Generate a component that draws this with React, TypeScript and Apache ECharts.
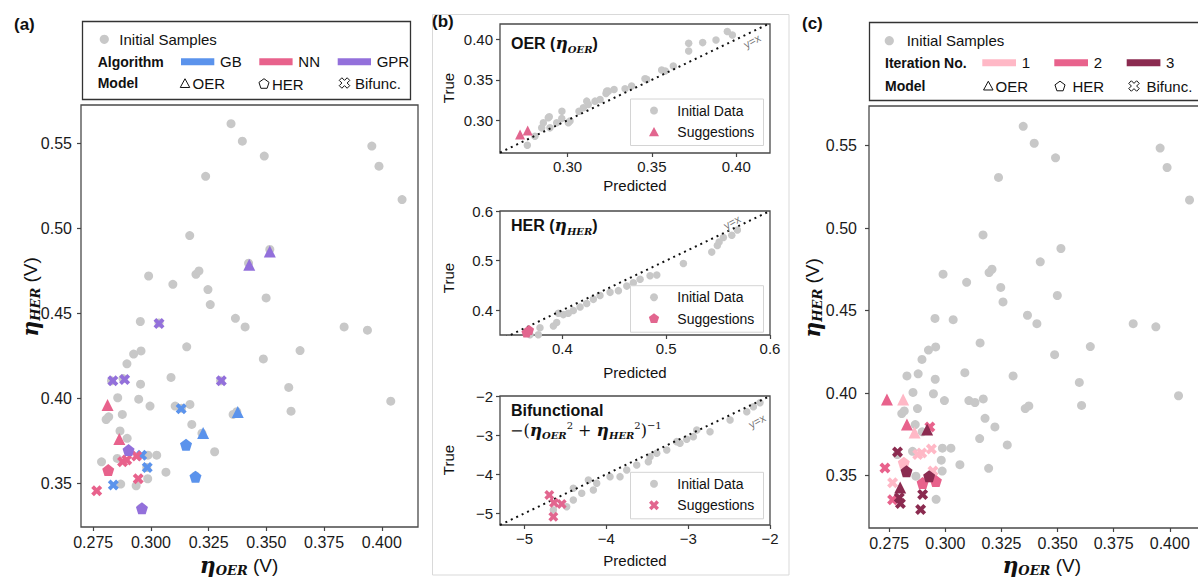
import React, { useEffect, useRef } from 'react';
import * as echarts from 'echarts';

// ---------------- DATA ----------------
// shared initial samples (eta_OER, eta_HER) in V
const initialSamples: number[][] = [
  [0.3347, 0.5618], [0.3396, 0.5515], [0.3491, 0.5427], [0.3237, 0.5308], [0.3957, 0.5486],
  [0.3988, 0.5368], [0.4088, 0.5171], [0.3168, 0.4959], [0.2990, 0.4721], [0.3095, 0.4672],
  [0.3195, 0.4731], [0.3208, 0.4751], [0.3247, 0.4641], [0.3257, 0.4553], [0.3499, 0.4592],
  [0.2954, 0.4453], [0.3366, 0.4472], [0.3408, 0.4421], [0.3837, 0.4421], [0.3938, 0.4402],
  [0.3423, 0.4796], [0.3515, 0.4877], [0.3035, 0.4445], [0.3155, 0.4304], [0.2925, 0.4261],
  [0.2957, 0.4280], [0.2896, 0.4204], [0.3487, 0.4233], [0.3646, 0.4282], [0.3087, 0.4124],
  [0.3597, 0.4065], [0.2955, 0.4084], [0.2856, 0.4004], [0.2947, 0.3996], [0.2996, 0.3955],
  [0.3105, 0.3955], [0.3169, 0.3965], [0.4039, 0.3984], [0.3607, 0.3925], [0.3356, 0.3906],
  [0.2806, 0.3876], [0.2817, 0.3892], [0.2876, 0.3906], [0.3177, 0.3847], [0.2866, 0.3809],
  [0.2897, 0.3765], [0.3276, 0.3686], [0.3025, 0.3666], [0.2987, 0.3666], [0.2786, 0.3627],
  [0.2854, 0.3647], [0.3065, 0.3566], [0.2986, 0.3527], [0.2869, 0.3496], [0.2936, 0.3486],
  [0.2829, 0.4104], [0.2879, 0.4117], [0.3302, 0.4104], [0.3132, 0.3943], [0.3372, 0.3922],
  [0.3221, 0.3795], [0.3153, 0.3724], [0.3193, 0.3544], [0.2982, 0.3593], [0.2959, 0.3356],
];

// panel (a): suggestions by algorithm and model
const gbOER = [[0.3376, 0.3920], [0.3226, 0.3797]];
const gbHER = [[0.3152, 0.3728], [0.3193, 0.3539]];
const gbBif = [[0.3131, 0.3940], [0.2960, 0.3666], [0.2984, 0.3594], [0.2837, 0.3490]];
const nnOER = [[0.2812, 0.3961], [0.2863, 0.3761]];
const nnHER = [[0.2815, 0.3578]];
const nnBif = [[0.2877, 0.3627], [0.2895, 0.3637], [0.2938, 0.3661], [0.2945, 0.3527], [0.2765, 0.3457]];
const gprOER = [[0.3426, 0.4788], [0.3515, 0.4866]];
const gprHER = [[0.2903, 0.3696], [0.2961, 0.3353]];
const gprBif = [[0.2835, 0.4104], [0.2886, 0.4112], [0.3305, 0.4104], [0.3035, 0.4441]];

// panel (c): suggestions by iteration and model
const it1OER = [[0.2812, 0.3961], [0.2863, 0.3761]];
const it1HER = [[0.2815, 0.3578]];
const it1Bif = [[0.2877, 0.3627], [0.2895, 0.3637], [0.2938, 0.3661], [0.2945, 0.3527], [0.2765, 0.3457]];
const it2OER = [[0.2740, 0.3961], [0.2829, 0.3809]];
const it2HER = [[0.2899, 0.3455], [0.2958, 0.3467]];
const it2Bif = [[0.2731, 0.3546], [0.2765, 0.3354], [0.2931, 0.3795]];
const it3OER = [[0.2919, 0.3779], [0.2799, 0.3427]];
const it3HER = [[0.2827, 0.3526], [0.2928, 0.3496]];
const it3Bif = [[0.2787, 0.3643], [0.2795, 0.3365], [0.2800, 0.3330], [0.2899, 0.3385], [0.2890, 0.3294]];

// panel (b): predicted vs true
const oerInitial = [
  [0.2762, 0.2690], [0.2807, 0.2802], [0.2847, 0.2906], [0.2857, 0.2968], [0.2892, 0.3042],
  [0.2896, 0.2906], [0.2936, 0.2968], [0.2967, 0.3112], [0.2966, 0.3021], [0.3005, 0.2968],
  [0.3015, 0.2991], [0.3068, 0.3112], [0.3094, 0.3154], [0.3123, 0.3195], [0.3163, 0.3236],
  [0.3193, 0.3257], [0.3228, 0.3332], [0.3242, 0.3360], [0.3276, 0.3381], [0.3341, 0.3390],
  [0.3380, 0.3422], [0.3459, 0.3514], [0.3558, 0.3621], [0.3579, 0.3608], [0.3627, 0.3670],
  [0.3718, 0.3952], [0.3718, 0.3856], [0.3801, 0.3960], [0.3880, 0.3993], [0.3947, 0.4097],
  [0.3977, 0.4055], [0.2886, 0.3030], [0.3114, 0.3236], [0.3232, 0.3360], [0.3469, 0.3505],
];
const oerSuggest = [[0.2719, 0.2823], [0.2764, 0.2872]];
const herInitial = [
  [0.5686, 0.5617], [0.5632, 0.5510], [0.5551, 0.5465], [0.5510, 0.5375], [0.5493, 0.5305],
  [0.5439, 0.5171], [0.5166, 0.4940], [0.4910, 0.4709], [0.4845, 0.4696], [0.4749, 0.4625],
  [0.4684, 0.4555], [0.4621, 0.4486], [0.4540, 0.4394], [0.4460, 0.4360], [0.4299, 0.4219],
  [0.4235, 0.4135], [0.4171, 0.4066], [0.4106, 0.3995], [0.4058, 0.3940], [0.4010, 0.3911],
  [0.3962, 0.3940], [0.3946, 0.3751], [0.3914, 0.3680], [0.3785, 0.3646], [0.3769, 0.3505],
  [0.3689, 0.3505], [0.3641, 0.3436], [0.4363, 0.4297],
];
const herSuggest = [[0.3655, 0.3550], [0.3680, 0.3600]];
const bifInitial = [
  [-2.122, -2.171], [-2.203, -2.273], [-2.284, -2.401], [-2.488, -2.614], [-2.733, -2.913],
  [-2.895, -2.870], [-2.937, -3.040], [-3.018, -3.107], [-3.100, -3.210], [-3.140, -3.168],
  [-3.262, -3.381], [-3.384, -3.466], [-3.466, -3.552], [-3.487, -3.680], [-3.629, -3.765],
  [-3.751, -3.893], [-3.833, -4.063], [-3.955, -4.063], [-4.118, -4.233], [-4.220, -4.148],
  [-4.159, -4.404], [-4.301, -4.488], [-4.404, -4.361], [-4.404, -4.660], [-4.485, -4.831],
  [-4.648, -4.916],
];
const bifSuggest = [[-4.697, -4.532], [-4.640, -4.729], [-4.546, -4.762], [-4.648, -5.087]];

// tick labels
const ticksOER = [0.275, 0.3, 0.325, 0.35, 0.375, 0.4];
const ticksHER = [0.35, 0.4, 0.45, 0.5, 0.55];
const ticksB1 = [0.3, 0.35, 0.4];
const ticksB2 = [0.4, 0.5, 0.6];
const ticksB3 = [-5, -4, -3, -2];

// ---------------- STYLE ----------------
const FONT = '"Liberation Sans", Arial, sans-serif';
const SERIF = '"DejaVu Serif", serif';
const COL = {
  gray: '#C8C8C8', gb: '#5B93EC', nn: '#E8628C', gpr: '#9370DB',
  it1: '#FFB8C6', it2: '#E8628C', it3: '#8B2B50', sug: '#E2668F',
};
const PENT = 'path://M5,0L9.755,3.455L7.939,9.045L2.061,9.045L0.245,3.455Z';
const XSYM = 'path://M2.5,0L5,2.5L7.5,0L10,2.5L7.5,5L10,7.5L7.5,10L5,7.5L2.5,10L0,7.5L2.5,5L0,2.5Z';
const X_UNIT = [[2.5, 0], [5, 2.5], [7.5, 0], [10, 2.5], [7.5, 5], [10, 7.5], [7.5, 10], [5, 7.5], [2.5, 10], [0, 7.5], [2.5, 5], [0, 2.5]];

const triPts = (cx: number, cy: number, s: number) => [[cx, cy - s * 0.5], [cx + s * 0.5, cy + s * 0.42], [cx - s * 0.5, cy + s * 0.42]];
const pentPts = (cx: number, cy: number, r: number) =>
  [0, 1, 2, 3, 4].map((k) => {
    const a = -Math.PI / 2 + (k * 2 * Math.PI) / 5;
    return [cx + r * Math.cos(a), cy + r * Math.sin(a)];
  });
const xPts = (cx: number, cy: number, s: number) => X_UNIT.map(([u, v]) => [cx + ((u - 5) * s) / 10, cy + ((v - 5) * s) / 10]);

const txt = (x: number, y: number, text: string, o: any = {}) => ({
  type: 'text', x, y, z: 100, silent: true,
  style: { text, fontFamily: FONT, fontSize: 15, fill: '#111', align: 'left', verticalAlign: 'middle', ...o },
});
const poly = (points: number[][], style: any) => ({ type: 'polygon', z: 100, silent: true, shape: { points }, style });
const rect = (x: number, y: number, w: number, h: number, style: any, z = 99) => ({ type: 'rect', z, silent: true, shape: { x, y, width: w, height: h }, style });
const circ = (cx: number, cy: number, r: number, fill: string) => ({ type: 'circle', z: 100, silent: true, shape: { cx, cy, r }, style: { fill } });

const etaRich = (eSize: number, sSize: number, lh: number) => ({
  e: { fontFamily: SERIF, fontSize: eSize, fontStyle: 'italic', fontWeight: 'bold', lineHeight: lh, verticalAlign: 'middle', fill: '#111' },
  s: { fontFamily: SERIF, fontSize: sSize, fontStyle: 'italic', fontWeight: 'bold', lineHeight: sSize, verticalAlign: 'bottom', fill: '#111' },
  v: { fontFamily: FONT, fontSize: 19, lineHeight: lh, verticalAlign: 'middle', fill: '#111' },
  b: { fontFamily: FONT, fontSize: 16, fontWeight: 'bold', lineHeight: lh, verticalAlign: 'middle', fill: '#111' },
  n: { fontFamily: SERIF, fontSize: 16, lineHeight: lh, verticalAlign: 'middle', fill: '#111' },
  p: { fontFamily: SERIF, fontSize: 10, lineHeight: 10, verticalAlign: 'top', fill: '#111' },
});

function axis(gridIndex: number, min: number, max: number, ticks: number[], fmt: (v: number) => string, fontSize: number, margin: number) {
  return {
    type: 'value', gridIndex, min, max,
    axisLine: { show: false },
    splitLine: { show: false },
    axisTick: { show: true, length: 4, lineStyle: { color: '#444', width: 1.2 }, customValues: ticks },
    axisLabel: { show: true, customValues: ticks, formatter: fmt, fontSize, fontFamily: FONT, color: '#1a1a1a', margin },
  };
}
const grid = (left: number, top: number, width: number, height: number) => ({
  left, top, width, height, show: true, borderColor: '#4a4a4a', borderWidth: 1.3,
  backgroundColor: 'transparent', containLabel: false, outerBoundsMode: 'none',
});
const sc = (gi: number, data: number[][], symbol: string, color: string, size: number, z = 3) => ({
  type: 'scatter', xAxisIndex: gi, yAxisIndex: gi, data, symbol, symbolSize: size, z, silent: true,
  itemStyle: { color, opacity: 1 },
});
const diag = (gi: number, lo: number, hi: number) => ({
  type: 'line', xAxisIndex: gi, yAxisIndex: gi, data: [[lo, lo], [hi, hi]], symbol: 'none', z: 3, silent: true,
  clip: true, lineStyle: { color: '#111', width: 2, type: [2, 4] },
});

const f3 = (v: number) => v.toFixed(3);
const f2 = (v: number) => v.toFixed(2);
const f1 = (v: number) => v.toFixed(1);
const fm = (v: number) => (v < 0 ? '\u2212' : '') + Math.abs(v).toString();

function buildOption(): any {
  const g: any[] = [];
  // panel labels
  g.push(txt(14, 24.5, '(a)', { fontWeight: 'bold', fontSize: 17 }));
  g.push(txt(432, 21.5, '(b)', { fontWeight: 'bold', fontSize: 17 }));
  g.push(txt(802, 23.5, '(c)', { fontWeight: 'bold', fontSize: 17 }));

  // ---- legend (a)
  g.push(rect(82.5, 21.5, 328, 78, { fill: '#fff', stroke: '#333', lineWidth: 1.3 }));
  g.push(circ(104.3, 39.3, 4.6, COL.gray));
  g.push(txt(119.3, 39.3, 'Initial Samples'));
  g.push(txt(97.7, 61.7, 'Algorithm', { fontWeight: 'bold', fontSize: 14 }));
  [[181, COL.gb, 'GB'], [259.3, COL.nn, 'NN'], [337.7, COL.gpr, 'GPR']].forEach(([x, c, t]: any) => {
    g.push(rect(x, 58.2, 33.3, 7, { fill: c }, 100));
    g.push(txt(x + 39, 61.7, t));
  });
  g.push(txt(97.7, 83.3, 'Model', { fontWeight: 'bold', fontSize: 14 }));
  g.push(poly(triPts(185, 83.5, 9.5), { fill: 'none', stroke: '#111', lineWidth: 1 }));
  g.push(txt(192.5, 83.3, 'OER'));
  g.push(poly(pentPts(264, 84, 5.3), { fill: 'none', stroke: '#111', lineWidth: 1 }));
  g.push(txt(272, 84, 'HER'));
  g.push(poly(xPts(344.5, 83, 10.5), { fill: 'none', stroke: '#111', lineWidth: 1 }));
  g.push(txt(355, 83.3, 'Bifunc.'));

  // ---- legend (c)
  g.push(rect(869.5, 22.5, 345, 78, { fill: '#fff', stroke: '#333', lineWidth: 1.3 }));
  g.push(circ(889.3, 40.7, 4.6, COL.gray));
  g.push(txt(906.7, 40.7, 'Initial Samples'));
  g.push(txt(885, 62.7, 'Iteration No.', { fontWeight: 'bold', fontSize: 14 }));
  [[982.3, COL.it1, '1'], [1054.3, COL.it2, '2'], [1126.7, COL.it3, '3']].forEach(([x, c, t]: any) => {
    g.push(rect(x, 59.2, 33.7, 7, { fill: c }, 100));
    g.push(txt(x + 39.4, 62.7, t));
  });
  g.push(txt(885, 86, 'Model', { fontWeight: 'bold', fontSize: 14 }));
  g.push(poly(triPts(988.3, 86, 9.5), { fill: 'none', stroke: '#111', lineWidth: 1 }));
  g.push(txt(995.5, 86, 'OER'));
  g.push(poly(pentPts(1060, 86.5, 5.3), { fill: 'none', stroke: '#111', lineWidth: 1 }));
  g.push(txt(1072.5, 86.5, 'HER'));
  g.push(poly(xPts(1134, 86, 10.5), { fill: 'none', stroke: '#111', lineWidth: 1 }));
  g.push(txt(1146.5, 86, 'Bifunc.'));

  // ---- axis names (a) & (c)
  const an = etaRich(22, 13, 24);
  g.push({ type: 'text', x: 239, y: 565, z: 100, silent: true, style: { text: '{e|η}{s|OER}{v| (V)}', rich: an, align: 'center', verticalAlign: 'middle', fill: '#111' } });
  g.push({ type: 'text', x: 30, y: 297, rotation: Math.PI / 2, z: 100, silent: true, style: { text: '{e|η}{s|HER}{v| (V)}', rich: an, align: 'center', verticalAlign: 'middle', fill: '#111' } });
  g.push({ type: 'text', x: 1041.7, y: 565, z: 100, silent: true, style: { text: '{e|η}{s|OER}{v| (V)}', rich: an, align: 'center', verticalAlign: 'middle', fill: '#111' } });
  g.push({ type: 'text', x: 812, y: 298, rotation: Math.PI / 2, z: 100, silent: true, style: { text: '{e|η}{s|HER}{v| (V)}', rich: an, align: 'center', verticalAlign: 'middle', fill: '#111' } });

  // ---- panel (b) frame & texts
  g.push(rect(432.5, 14.5, 356.5, 560.5, { fill: 'none', stroke: '#d9d9d9', lineWidth: 1 }, 1));
  const bt = etaRich(17, 10, 22);
  const ft = etaRich(17, 10, 20);
  g.push({ type: 'text', x: 511, y: 43.3, z: 100, silent: true, style: { text: '{b|OER (}{e|η}{s|OER}{b|)}', rich: bt, align: 'left', verticalAlign: 'middle' } });
  g.push({ type: 'text', x: 511, y: 225, z: 100, silent: true, style: { text: '{b|HER (}{e|η}{s|HER}{b|)}', rich: bt, align: 'left', verticalAlign: 'middle' } });
  g.push(txt(511, 410.5, 'Bifunctional', { fontWeight: 'bold', fontSize: 16 }));
  g.push({ type: 'text', x: 510, y: 430, z: 100, silent: true, style: { text: '{n|\u2212(}{e|η}{s|OER}{p|2}{n| + }{e|η}{s|HER}{p|2}{n|)}{p|\u22121}', rich: ft, align: 'left', verticalAlign: 'middle' } });
  [[88, 185], [278, 372.7], [460, 560]].forEach(([ty, py]) => {
    g.push({ ...txt(448.5, ty, 'True', { align: 'center', fontSize: 15 }), rotation: Math.PI / 2 });
    g.push(txt(635, py, 'Predicted', { align: 'center', fontSize: 15 }));
  });
  [[752, 41], [732, 222], [757, 421]].forEach(([x, y]) => {
    g.push({ ...txt(x, y, 'y=x', { align: 'center', fontSize: 11, fill: '#777' }), rotation: 0.5 });
  });
  // inner legends of (b)
  const bl = [
    [99, 'tri'],
    [285.7, 'pent'],
    [472.3, 'x'],
  ];
  bl.forEach(([y0, kind]: any) => {
    g.push(rect(630.5, y0, 133, 46.5, { fill: 'rgba(255,255,255,0.85)', stroke: '#d4d4d4', lineWidth: 1 }, 99));
    g.push(circ(654, y0 + 11.5, 4, COL.gray));
    g.push(txt(677.3, y0 + 11.5, 'Initial Data', { fontSize: 14 }));
    const cy = y0 + 33;
    if (kind === 'tri') g.push(poly(triPts(654, cy, 10), { fill: COL.sug }));
    if (kind === 'pent') g.push(poly(pentPts(654, cy, 5.4), { fill: COL.sug }));
    if (kind === 'x') g.push(poly(xPts(654, cy, 10), { fill: COL.sug }));
    g.push(txt(677.3, cy, 'Suggestions', { fontSize: 14 }));
  });

  const option: any = {
    animation: false,
    backgroundColor: '#fff',
    grid: [
      grid(81, 105, 337, 422),
      grid(500, 24, 270, 129),
      grid(500, 211, 270, 124),
      grid(500, 396, 270, 129),
      grid(869, 106, 345, 422),
    ],
    xAxis: [
      axis(0, 0.2697, 0.4157, ticksOER, f3, 16, 7),
      axis(1, 0.26, 0.42, ticksB1, f2, 15, 6),
      axis(2, 0.34, 0.6, ticksB2, f1, 15, 6),
      axis(3, -5.3, -2, ticksB3, fm, 15, 6),
      axis(4, 0.266, 0.4197, ticksOER, f3, 16, 7),
    ],
    yAxis: [
      axis(0, 0.3243, 0.5728, ticksHER, f2, 16, 9),
      axis(1, 0.2595, 0.419, ticksB1, f2, 15, 7),
      axis(2, 0.35, 0.6, ticksB2, f1, 15, 7),
      axis(3, -5.3, -2, ticksB3, fm, 15, 7),
      axis(4, 0.3182, 0.5741, ticksHER, f2, 16, 12),
    ],
    series: [
      // (a)
      sc(0, initialSamples, 'circle', COL.gray, 9, 2),
      sc(0, gbOER, 'triangle', COL.gb, 12),
      sc(0, gbHER, PENT, COL.gb, 12),
      sc(0, gbBif, XSYM, COL.gb, 11),
      sc(0, nnOER, 'triangle', COL.nn, 12, 4),
      sc(0, nnHER, PENT, COL.nn, 12, 4),
      sc(0, nnBif, XSYM, COL.nn, 11, 4),
      sc(0, gprOER, 'triangle', COL.gpr, 12, 5),
      sc(0, gprHER, PENT, COL.gpr, 12, 5),
      sc(0, gprBif, XSYM, COL.gpr, 11, 5),
      // (b)
      sc(1, oerInitial, 'circle', COL.gray, 7.5, 2),
      diag(1, 0.26, 0.42),
      sc(1, oerSuggest, 'triangle', COL.sug, 10, 4),
      sc(2, herInitial, 'circle', COL.gray, 7.5, 2),
      diag(2, 0.34, 0.6),
      sc(2, herSuggest, PENT, COL.sug, 10, 4),
      sc(3, bifInitial, 'circle', COL.gray, 7.5, 2),
      diag(3, -5.3, -2),
      sc(3, bifSuggest, XSYM, COL.sug, 10, 4),
      // (c)
      sc(4, initialSamples, 'circle', COL.gray, 9, 2),
      sc(4, it1OER, 'triangle', COL.it1, 12),
      sc(4, it1HER, PENT, COL.it1, 12),
      sc(4, it1Bif, XSYM, COL.it1, 11),
      sc(4, it2OER, 'triangle', COL.it2, 12, 4),
      sc(4, it2HER, PENT, COL.it2, 12, 4),
      sc(4, it2Bif, XSYM, COL.it2, 11, 4),
      sc(4, it3OER, 'triangle', COL.it3, 12, 5),
      sc(4, it3HER, PENT, COL.it3, 12, 5),
      sc(4, it3Bif, XSYM, COL.it3, 11, 5),
    ],
    graphic: { elements: g },
  };
  return option;
}

export default function App() {
  const ref = useRef<HTMLDivElement>(null);
  useEffect(() => {
    const chart = echarts.init(ref.current!, undefined, { renderer: 'svg', width: 1198, height: 577 });
    chart.setOption(buildOption());
    return () => chart.dispose();
  }, []);
  return (
    <div
      ref={ref}
      style={{ position: 'absolute', left: 0, top: 0, width: 1198, height: 577, overflow: 'hidden', background: '#fff' }}
    />
  );
}
